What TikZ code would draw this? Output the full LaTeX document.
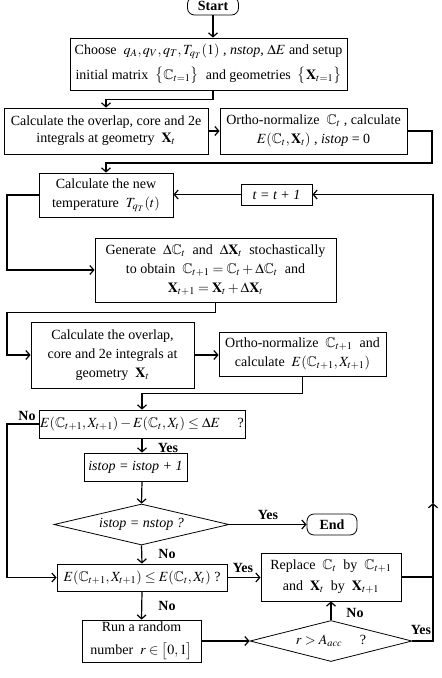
\documentclass[tikz,border=0pt]{standalone}
\usepackage{amsmath,amssymb}
\usepackage{mathptmx}
\usepackage{fontspec}
\setmainfont{Liberation Serif}
\usetikzlibrary{arrows.meta}
\usetikzlibrary{shapes.geometric}
\newcommand{\chartfont}{\fontsize{14}{17}\selectfont}
\tikzset{
  procbox/.style={draw, line width=0.8pt, align=center, inner sep=1pt},
  termbox/.style={draw, rounded corners=7pt, line width=0.8pt, font=\chartfont\bfseries},
  decision/.style={draw, diamond, aspect=4, inner sep=0pt, line width=0.8pt},
  flow/.style={line width=1.2pt, -{Straight Barb[length=4pt,width=9pt,line width=1.2pt]}},
  link/.style={line width=1.2pt},
  answer/.style={font=\chartfont\bfseries}
}

\begin{document}
\begin{tikzpicture}[x=1pt, y=-1pt, font=\chartfont]
    \useasboundingbox (0,0) rectangle (442,678);

    % boxes
    \node[termbox, minimum width=51pt, minimum height=18pt, inner sep=1pt] (start) at (213,6) {Start};
    \node[procbox, minimum width=277pt, minimum height=52pt] (choose) at (208.5,64)
        {Choose \ $q_A, q_V, q_T, T_{q_T}(1)$ , \textit{nstop}, $\Delta E$ and setup\\[8pt]
         initial matrix \ $\bigl\{\mathbb{C}_{t=1}\bigr\}$ \ and geometries \ $\bigl\{\mathbf{X}_{t=1}\bigr\}$};
    \node[procbox, minimum width=204pt, minimum height=46pt] (overlapA) at (106,131)
        {Calculate the overlap, core and 2e\\ integrals at geometry \ $\mathbf{X}_t$};
    \node[procbox, minimum width=187pt, minimum height=46pt] (orthoA) at (313.5,131)
        {Ortho-normalize \ $\mathbb{C}_t$ , calculate\\[2pt] $E(\mathbb{C}_t,\mathbf{X}_t)$ , \textit{istop} = 0};
    \node[procbox, minimum width=134pt, minimum height=44pt] (newtemp) at (106,195)
        {Calculate the new\\[2pt] temperature \ $T_{q_T}(t)$};
    \node[procbox, minimum width=71pt, minimum height=21pt] (tstep) at (276.5,194.5) {\textit{t = t + 1}};
    \node[procbox, minimum width=241pt, minimum height=64pt] (generate) at (215.5,270)
        {Generate \ $\Delta\mathbb{C}_t$ \ and \ $\Delta\mathbf{X}_t$ \ stochastically\\[2pt]
         to obtain \ $\mathbb{C}_{t+1} = \mathbb{C}_t + \Delta\mathbb{C}_t$ \ and\\[2pt]
         $\mathbf{X}_{t+1} = \mathbf{X}_t + \Delta\mathbf{X}_t$};
    \node[procbox, minimum width=163pt, minimum height=66pt] (overlapB) at (112.5,355)
        {Calculate the overlap,\\[2pt] core and 2e integrals at\\[2pt] geometry \ $\mathbf{X}_t$};
    \node[procbox, minimum width=167pt, minimum height=44pt] (orthoB) at (302.5,354)
        {Ortho-normalize \ $\mathbb{C}_{t+1}$ \ and\\[2pt] calculate \ $E(\mathbb{C}_{t+1}, X_{t+1})$};
    \node[procbox, minimum width=200pt, minimum height=28pt] (deltaq) at (142,424)
        {$E(\mathbb{C}_{t+1},X_{t+1})-E(\mathbb{C}_t,X_t)\le\Delta E$ \quad ?};
    \node[procbox, minimum width=103pt, minimum height=28pt] (counter) at (135.5,467)
        {\textit{istop = istop + 1}};
    \node[decision, minimum width=175pt, minimum height=41pt] (stopq) at (141.5,524.5)
        {\textit{istop = nstop ?}};
    \node[termbox, minimum width=50pt, minimum height=21pt] (finish) at (332,524.5) {End};
    \node[procbox, minimum width=170pt, minimum height=27pt] (acceptq) at (142,577.5)
        {$E(\mathbb{C}_{t+1},X_{t+1})\le E(\mathbb{C}_t,X_t)$ ?};
    \node[procbox, minimum width=140pt, minimum height=48pt] (replace) at (331,577)
        {Replace \ $\mathbb{C}_t$ \ by \ $\mathbb{C}_{t+1}$\\[4pt] and \ $\mathbf{X}_t$ \ by \ $\mathbf{X}_{t+1}$};
    \node[procbox, minimum width=119pt, minimum height=42pt] (random) at (141.5,641)
        {Run a random\\[6pt] number \ $r\in\bigl[0,1\bigr]$};
    \node[decision, minimum width=162pt, minimum height=41pt] (metroq) at (331,641)
        {$r > A_{acc}$ \quad ?};

    % rails
    \coordinate (leftrail) at (7,0);
    \coordinate (loopA) at (432,163);
    \coordinate (upmark) at (433,503);

    % connectors
    \draw[flow] (start.south) -- (start.south |- choose.north);
    \draw[flow] (start.south |- choose.south) -- ++(0,9) -| (overlapA.north);
    \draw[flow] (overlapA.east) -- (orthoA.west);
    \draw[flow] (orthoA.east) -| (loopA) -| (newtemp.north);
    \draw[flow] (tstep.west) -- (tstep.west -| newtemp.east);
    \draw[flow] (newtemp.west) -- (newtemp.west -| leftrail) |- (generate.west);
    \draw[flow] (generate.south) -- ++(0,10) -| (leftrail |- overlapB.west) -- (overlapB.west);
    \draw[flow] (overlapB.east) -- (overlapB.east -| orthoB.west);
    \draw[flow] (orthoB.south) -- ++(0,17) -| (deltaq.north);
    \draw[flow] (deltaq.west) -- (deltaq.west -| leftrail) |- (acceptq.west);
    \draw[flow] (deltaq.south) -- (deltaq.south |- counter.north);
    \draw[flow] (deltaq.south |- counter.south) -- (stopq.north);
    \draw[flow] (stopq.east) -- (finish.west);
    \draw[flow] (stopq.south) -- (acceptq.north);
    \draw[flow] (acceptq.east) -- (acceptq.east -| replace.west);
    \draw[flow] (acceptq.south) -- (random.north);
    \draw[flow] (random.east) -- (metroq.west);
    \draw[flow] (metroq.north) -- (replace.south);
    \draw[flow] (metroq.east) -| (upmark);
    \draw[flow] (upmark) |- (tstep.east);
    \draw[link] (replace.east) -- (replace.east -| upmark);

    % yes / no labels
    \node[answer] (noA) at (27,416) {No};
    \node[answer] (yesA) at (168,448) {Yes};
    \node[answer] (yesB) at (268,515) {Yes};
    \node[answer] (noB) at (167,554) {No};
    \node[answer] (yesC) at (243,568) {Yes};
    \node[answer] (noC) at (167,606) {No};
    \node[answer] (noD) at (355,613) {No};
    \node[answer] (yesD) at (421,630) {Yes};
\end{tikzpicture}
\end{document}
